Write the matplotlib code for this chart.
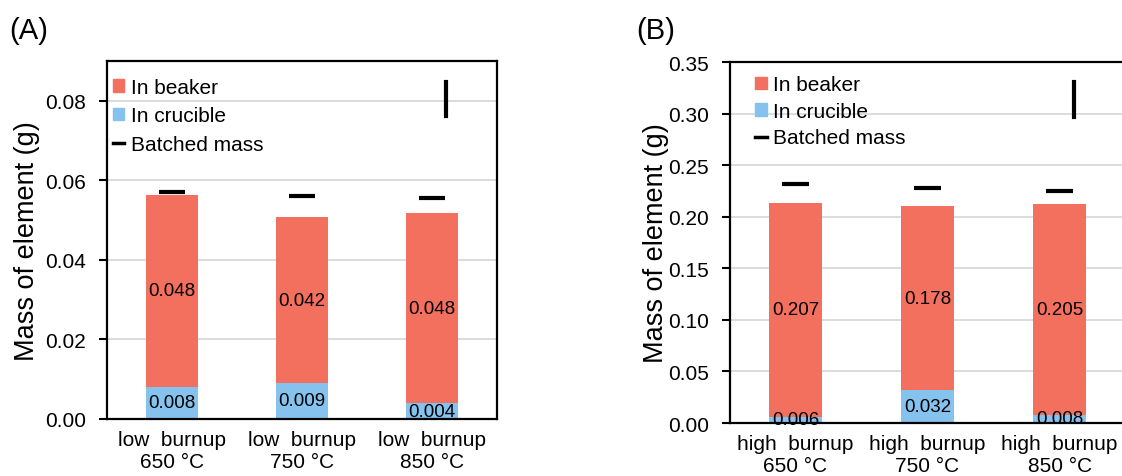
import numpy as np
import matplotlib
matplotlib.use("Agg")
import matplotlib.pyplot as plt
from matplotlib.patches import Patch
from matplotlib.lines import Line2D

plt.rcParams["font.family"] = ["Liberation Sans", "DejaVu Sans"]

# Data
labels_low = ["low  burnup\n650 °C", "low  burnup\n750 °C", "low  burnup\n850 °C"]
labels_high = ["high  burnup\n650 °C", "high  burnup\n750 °C", "high  burnup\n850 °C"]

crucible_low = [0.0081, 0.0091, 0.0040]
beaker_low = [0.0482, 0.0416, 0.0478]
batched_low = [0.0571, 0.0561, 0.0556]

crucible_high = [0.0061, 0.0320, 0.0078]
beaker_high = [0.2070, 0.1780, 0.2046]
batched_high = [0.2318, 0.2279, 0.2247]

RED = "#F4705E"
BLUE = "#85C3EE"


def draw_panel(ax, labels, crucible, beaker, batched, ylim, yticks,
               legend_anchor, label_gap, mark_x, mark_y, ylabelpad):
    x = np.arange(len(labels))
    ax.set_axisbelow(True)
    ax.yaxis.grid(True, color="#d9d9d9", linewidth=1.3)

    b1 = ax.bar(x, crucible, width=0.4, color=BLUE)
    b2 = ax.bar(x, beaker, width=0.4, bottom=crucible, color=RED)
    ax.bar_label(b1, labels=[f"{v:.3f}" for v in crucible], label_type="center", fontsize=13.5)
    ax.bar_label(b2, labels=[f"{v:.3f}" for v in beaker], label_type="center", fontsize=13.5)

    ax.hlines(batched, x - 0.1, x + 0.1, colors="black", linewidth=3)

    # stray vertical mark that sits inside the legend area
    ax.plot([mark_x, mark_x], mark_y, color="black", linewidth=3,
            transform=ax.transAxes, clip_on=False)

    ax.set_xlim(-0.5, 2.5)
    ax.set_ylim(*ylim)
    ax.set_yticks(yticks)
    ax.set_yticklabels([f"{t:.2f}" for t in yticks], fontsize=15)
    ax.set_xticks(x)
    ax.set_xticklabels(labels, fontsize=15, linespacing=1.2)
    ax.tick_params(axis="x", length=0, pad=8)
    ax.tick_params(axis="y", length=6, width=1.5, direction="out", pad=9)
    for s in ax.spines.values():
        s.set_linewidth(1.6)
    ax.set_ylabel("Mass of element (g)", fontsize=19.5, labelpad=ylabelpad)

    handles = [Patch(color=RED), Patch(color=BLUE),
               Line2D([0], [0], color="black", linewidth=2.5)]
    ax.legend(handles, ["In beaker", "In crucible", "Batched mass"],
              loc="upper left", bbox_to_anchor=legend_anchor, frameon=False,
              fontsize=15, handlelength=0.55, handleheight=0.55,
              handletextpad=0.3, labelspacing=label_gap, borderaxespad=0, borderpad=0)


fig = plt.figure(figsize=(11.22, 4.77), dpi=100)
axA = fig.add_axes([0.0954, 0.1195, 0.3476, 0.7505])
axB = fig.add_axes([0.6502, 0.1111, 0.353, 0.7568])

draw_panel(axA, labels_low, crucible_low, beaker_low, batched_low,
           (0, 0.09), [0, 0.02, 0.04, 0.06, 0.08],
           (0.015, 0.953), 0.46, 0.869, [0.846, 0.941], 4)
draw_panel(axB, labels_high, crucible_high, beaker_high, batched_high,
           (0, 0.35), [0, 0.05, 0.10, 0.15, 0.20, 0.25, 0.30, 0.35],
           (0.065, 0.963), 0.36, 0.870, [0.848, 0.945], -1)
axB.spines["right"].set_visible(False)

fig.text(0.008, 0.918, "(A)", fontsize=21)
fig.text(0.567, 0.918, "(B)", fontsize=21)

fig.savefig("out.png", dpi=100)
